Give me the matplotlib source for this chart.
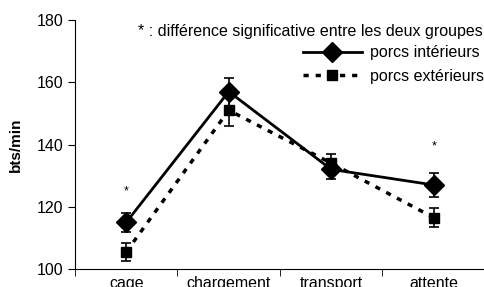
import matplotlib
matplotlib.use("Agg")
import matplotlib.pyplot as plt
import numpy as np
from matplotlib.lines import Line2D

categories = ["cage", "chargement", "transport", "attente"]
interieurs = [115, 157, 132, 127]
interieurs_err = [3, 4.5, 3, 4]
exterieurs = [105.5, 151, 134, 116.5]
exterieurs_err = [3, 5, 3, 3]
star_pos = [(0, 125), (3, 139.5)]

plt.rcParams['font.family'] = ['Liberation Sans', 'DejaVu Sans']
FS = 11.5
DASH = (0, (1.5, 2.0))

fig = plt.figure(figsize=(4.85, 2.87), dpi=100)
ax = fig.add_axes([0.1546, 0.0627, 0.8454, 0.8676])
x = np.arange(len(categories))

ax.errorbar(x, interieurs, yerr=interieurs_err, color='black', lw=2, marker='D',
            markersize=10, capsize=3.5, elinewidth=1.2, capthick=1.2, zorder=3)
ax.errorbar(x, exterieurs, yerr=exterieurs_err, color='black', lw=2.5, marker='s',
            markersize=7.5, capsize=3.5, elinewidth=1.2, capthick=1.2,
            linestyle=DASH, zorder=3)
for xi, yi in star_pos:
    ax.text(xi, yi, "*", ha='center', va='center', fontsize=9)

ax.set_xlim(-0.5, 3.5)
ax.set_ylim(100, 180)
ax.set_yticks([100, 120, 140, 160, 180])
ax.set_xticks(x)
ax.set_xticklabels(categories, fontsize=FS)
ax.set_xticks(np.arange(-0.5, 4.0, 1.0), minor=True)
ax.tick_params(axis='x', which='major', length=0, pad=5)
ax.tick_params(axis='x', which='minor', length=5, direction='out')
ax.tick_params(axis='y', labelsize=FS, length=5, direction='out')
ax.spines['top'].set_visible(False)
ax.spines['right'].set_visible(False)
ax.set_ylabel("bts/min", fontsize=11, fontweight='bold', labelpad=10)

ax.text(0.995, 0.985, "* : différence significative entre les deux groupes",
        transform=ax.transAxes, ha='right', va='top', fontsize=FS)
h1 = Line2D([], [], color='black', lw=2, marker='D', markersize=10)
h2 = Line2D([], [], color='black', lw=2.5, marker='s', markersize=7.5, linestyle=DASH)
ax.legend([h1, h2], ["porcs intérieurs", "porcs extérieurs"], loc='upper right',
          bbox_to_anchor=(1.02, 0.937), frameon=False, fontsize=FS, handlelength=3.7,
          handletextpad=0.5, labelspacing=0.55, borderpad=0.1)

fig.savefig("out.png", dpi=100)
